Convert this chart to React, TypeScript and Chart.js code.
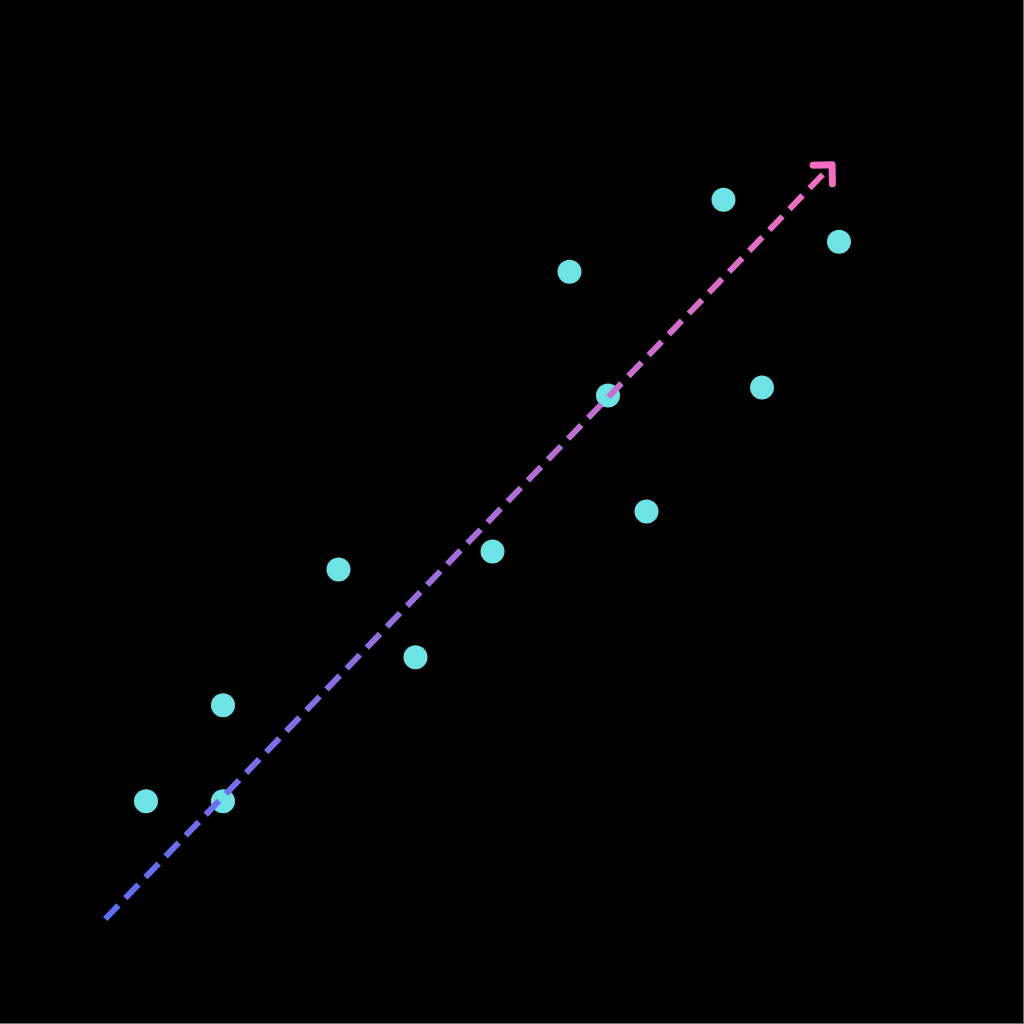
import React, { useEffect, useRef } from "react";
import { Chart, registerables } from "chart.js";

Chart.register(...registerables);

// Observed points
const pointX = [2, 4, 4, 7, 9, 11, 13, 14, 15, 17, 18, 20];
const pointY = [6.9, 11.7, 6.9, 18.5, 14.1, 19.4, 33.4, 27.2, 21.4, 37.0, 27.6, 34.9];

// Trend line (start, end)
const trendX = [0.94, 19.82];
const trendY = [1.0, 38.75];

const pointColor = "#6de3e6";
const trendStart = "#5a6ef4";
const trendEnd = "#f56cc4";

const arrowPlugin = {
  id: "trendArrow",
  afterDatasetsDraw(chart: any) {
    const { ctx, scales } = chart;
    const x0 = scales.x.getPixelForValue(trendX[0]);
    const y0 = scales.y.getPixelForValue(trendY[0]);
    const x1 = scales.x.getPixelForValue(trendX[1]);
    const y1 = scales.y.getPixelForValue(trendY[1]);
    const ang = Math.atan2(y0 - y1, x0 - x1);
    const len = 19;
    const spread = Math.PI / 4;
    ctx.save();
    ctx.strokeStyle = trendEnd;
    ctx.lineWidth = 7;
    ctx.lineCap = "round";
    ctx.lineJoin = "round";
    ctx.beginPath();
    ctx.moveTo(x1 + len * Math.cos(ang + spread), y1 + len * Math.sin(ang + spread));
    ctx.lineTo(x1, y1);
    ctx.lineTo(x1 + len * Math.cos(ang - spread), y1 + len * Math.sin(ang - spread));
    ctx.stroke();
    ctx.restore();
  },
};

export default function App() {
  const ref = useRef<HTMLCanvasElement | null>(null);

  useEffect(() => {
    document.body.style.margin = "0";
    document.body.style.background = "#707070";
    document.documentElement.style.background = "#707070";
    const canvas = ref.current;
    if (!canvas) return;

    const chart = new Chart(canvas, {
      type: "scatter",
      data: {
        datasets: [
          {
            type: "line",
            label: "Trend",
            order: 0,
            data: trendX.map((x, i) => ({ x, y: trendY[i] })),
            showLine: true,
            pointRadius: 0,
            borderWidth: 6,
            borderDash: [19, 10],
            borderCapStyle: "butt",
            fill: false,
            borderColor: (c: any) => {
              const ch = c.chart;
              if (!ch.chartArea) return trendStart;
              const sx = ch.scales.x;
              const sy = ch.scales.y;
              const g = ch.ctx.createLinearGradient(
                sx.getPixelForValue(trendX[0]),
                sy.getPixelForValue(trendY[0]),
                sx.getPixelForValue(trendX[1]),
                sy.getPixelForValue(trendY[1])
              );
              g.addColorStop(0, trendStart);
              g.addColorStop(1, trendEnd);
              return g;
            },
          } as any,
          {
            type: "scatter",
            label: "Points",
            order: 1,
            data: pointX.map((x, i) => ({ x, y: pointY[i] })),
            pointRadius: 12,
            pointHoverRadius: 12,
            backgroundColor: pointColor,
            borderWidth: 0,
          },
        ],
      },
      options: {
        animation: false,
        responsive: false,
        maintainAspectRatio: false,
        layout: { padding: { left: 69, right: 30, top: 40, bottom: 84 } },
        plugins: {
          legend: { display: false },
          tooltip: { enabled: false },
        },
        scales: {
          x: { type: "linear", min: 0, max: 24, display: false },
          y: { type: "linear", min: 0, max: 45, display: false },
        },
      },
      plugins: [
        {
          id: "bg",
          beforeDraw(ch: any) {
            const c = ch.ctx;
            c.save();
            c.fillStyle = "#000000";
            c.fillRect(0, 0, ch.width, ch.height);
            c.restore();
          },
        },
        arrowPlugin,
      ],
    });
    return () => chart.destroy();
  }, []);

  return (
    <div style={{ width: 1023, height: 1023, background: "#000" }}>
      <canvas ref={ref} width={1023} height={1023} style={{ display: "block" }} />
    </div>
  );
}
